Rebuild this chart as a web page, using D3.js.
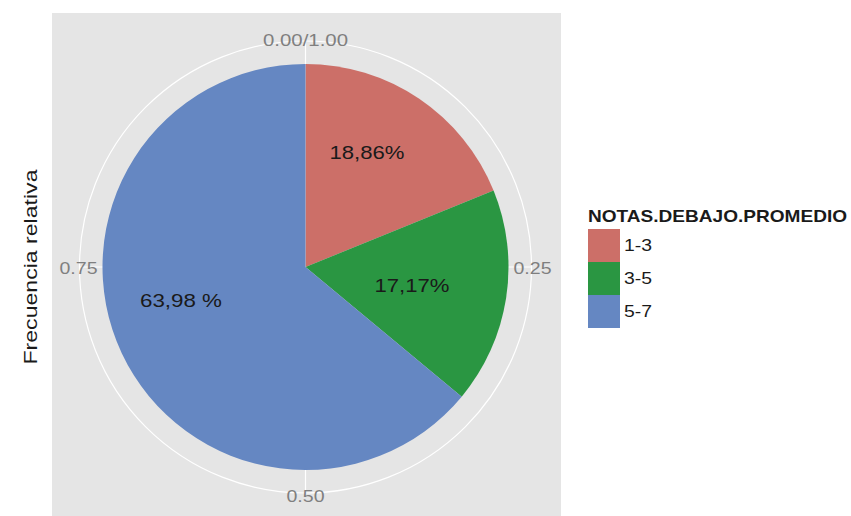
<!DOCTYPE html>
<html>
<head>
<meta charset="utf-8">
<script src="https://cdn.jsdelivr.net/npm/d3@7"></script>
<style>
  body { margin: 0; background: #fff; }
  text { font-family: "Liberation Sans", Arial, sans-serif; }
</style>
</head>
<body>
<div id="chart"></div>
<script>
const categories = ['1-3', '3-5', '5-7']
const values = [0.1886, 0.1717, 0.6398]
const sliceLabels = ['18,86%', '17,17%', '63,98 %']
const colors = ['#cc6f68', '#2a9642', '#6587c2']
const thetaTicks = [0, 0.25, 0.5, 0.75]
const thetaTickLabels = ['0.00/1.00', '0.25', '0.50', '0.75']

const width = 851, height = 516
const panel = { left: 52, top: 13, right: 561, bottom: 516 }
const cx = 305.5, cy = 267, radius = 203, gridR = 226

// the source picture is stretched sideways, so text widths are matched
const stretch = (sel, w) =>
  sel.attr('textLength', w).attr('lengthAdjust', 'spacingAndGlyphs')

const svg = d3.select('#chart').append('svg')
  .attr('width', width).attr('height', height)

svg.append('rect')
  .attr('x', panel.left).attr('y', panel.top)
  .attr('width', panel.right - panel.left)
  .attr('height', panel.bottom - panel.top)
  .attr('fill', '#e5e5e5')

const g = svg.append('g').attr('transform', `translate(${cx},${cy})`)

// theta scale: 0..1 maps to full circle, clockwise from top
const theta = d3.scaleLinear().domain([0, 1]).range([0, 2 * Math.PI])

// grid
g.append('circle').attr('r', gridR).attr('fill', 'none')
  .attr('stroke', '#fff').attr('stroke-width', 1.2)
g.selectAll('.spoke').data(thetaTicks).enter().append('line')
  .attr('x1', 0).attr('y1', 0)
  .attr('x2', (d) => gridR * Math.sin(theta(d)))
  .attr('y2', (d) => -gridR * Math.cos(theta(d)))
  .attr('stroke', '#fff').attr('stroke-width', 1.2)

// slices
const pie = d3.pie().sort(null).value((d) => d)
const arcs = pie(values)
const arc = d3.arc().innerRadius(0).outerRadius(radius)
g.selectAll('.slice').data(arcs).enter().append('path')
  .attr('d', arc)
  .attr('fill', (d, i) => colors[i])

// slice labels (positions)
const labelPos = [[61.5, -115], [106.5, 18], [-124.5, 33]]
const labelW = [75, 75, 82]
g.selectAll('.lbl').data(sliceLabels).enter().append('text')
  .attr('x', (d, i) => labelPos[i][0] - labelW[i] / 2)
  .attr('y', (d, i) => labelPos[i][1])
  .attr('dominant-baseline', 'central')
  .attr('font-size', 19)
  .attr('fill', '#1a1a1a')
  .text((d) => d)
  .each(function (d, i) { stretch(d3.select(this), labelW[i]) })

// theta tick labels
const tickW = [85, 38, 38, 38]
g.selectAll('.tick').data(thetaTicks).enter().append('text')
  .attr('x', (d, i) => (gridR + 1) * Math.sin(theta(d)) - tickW[i] / 2)
  .attr('y', (d) => -(gridR + 2) * Math.cos(theta(d)) + 1)
  .attr('dominant-baseline', 'central')
  .attr('font-size', 16)
  .attr('fill', '#7f7f7f')
  .text((d, i) => thetaTickLabels[i])
  .each(function (d, i) { stretch(d3.select(this), tickW[i]) })

// axis title
stretch(svg.append('text')
  .attr('transform', `translate(30,${cy}) rotate(-90)`)
  .attr('x', -97.5)
  .attr('dominant-baseline', 'central')
  .attr('font-size', 19)
  .attr('fill', '#1a1a1a')
  .text('Frecuencia relativa'), 195)

// legend
const legend = svg.append('g').attr('transform', 'translate(588,0)')
stretch(legend.append('text')
  .attr('x', 0).attr('y', 222)
  .attr('font-size', 17).attr('font-weight', 'bold')
  .attr('fill', '#1a1a1a')
  .text('NOTAS.DEBAJO.PROMEDIO'), 259)
const key = d3.scaleBand().domain(categories).range([229, 328])
legend.selectAll('.key').data(categories).enter().append('rect')
  .attr('x', 0).attr('y', (d) => key(d))
  .attr('width', 32).attr('height', key.bandwidth())
  .attr('fill', (d, i) => colors[i])
legend.selectAll('.keylbl').data(categories).enter().append('text')
  .attr('x', 36).attr('y', (d) => key(d) + key.bandwidth() / 2)
  .attr('dominant-baseline', 'central')
  .attr('font-size', 16)
  .attr('fill', '#1a1a1a')
  .text((d) => d)
  .each(function () { stretch(d3.select(this), 28) })
</script>
</body>
</html>
